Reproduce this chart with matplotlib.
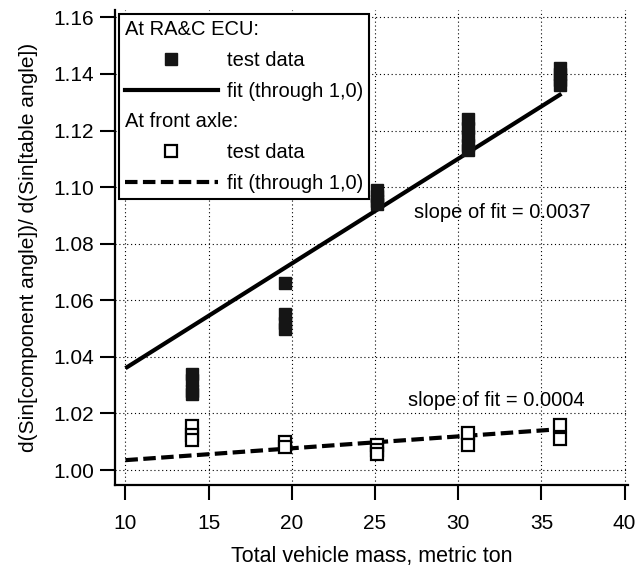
import numpy as np
import matplotlib
matplotlib.use("Agg")
import matplotlib.pyplot as plt
from matplotlib.lines import Line2D

plt.rcParams['font.family'] = ['Liberation Sans', 'DejaVu Sans']

# vehicle mass (metric ton) for each test group
mass = [14.0, 19.6, 25.1, 30.6, 36.1]

# RA&C ECU test data (filled squares)
ecu = [
    [1.034, 1.032, 1.028, 1.027],
    [1.066, 1.055, 1.052, 1.050],
    [1.099, 1.097, 1.095, 1.094],
    [1.124, 1.121, 1.118, 1.115, 1.113],
    [1.142, 1.140, 1.138, 1.136],
]

# front axle test data (open squares)
axle = [
    [1.0155, 1.0125, 1.0105],
    [1.010, 1.008],
    [1.009, 1.007, 1.0055],
    [1.013, 1.009],
    [1.016, 1.011],
]

# fits through (1,0)
fit_x = [10, 36.2]
fit_ecu = [1.036, 1.133]
fit_axle = [1.0035, 1.0145]

slope_ecu = "slope of fit = 0.0037"
slope_axle = "slope of fit = 0.0004"

fs = 15

fig = plt.figure(figsize=(6.35, 5.72), dpi=100)
ax = fig.add_axes([0.181, 0.152, 0.808, 0.830])

ex, ey, ax_x, ax_y = [], [], [], []
for m, vals in zip(mass, ecu):
    ex += [m] * len(vals)
    ey += vals
for m, vals in zip(mass, axle):
    ax_x += [m] * len(vals)
    ax_y += vals

ax.plot(fit_x, fit_ecu, color='black', lw=3, solid_capstyle='butt', zorder=3)
ax.plot(fit_x, fit_axle, color='black', lw=3, dashes=(3, 1.3), zorder=3)
ax.plot(ex, ey, 's', color='#151515', ms=9, mec='#151515', zorder=4)
ax.plot(ax_x, ax_y, 's', mfc='white', mec='black', mew=1.6, ms=9, zorder=4)

ax.set_xlim(9.37, 40.2)
ax.set_ylim(0.9947, 1.1625)
ax.set_xticks([10, 15, 20, 25, 30, 35, 40])
ax.set_yticks(np.arange(1.00, 1.161, 0.02))
ax.yaxis.set_major_formatter(matplotlib.ticker.FormatStrFormatter('%.2f'))
ax.tick_params(direction='out', length=11, width=1.5, labelsize=fs)
ax.tick_params(axis='x', pad=10)
ax.tick_params(axis='y', pad=4)
ax.grid(True, color='black', lw=0.8, linestyle=(0, (1, 2.5)))
for s in ['top', 'right']:
    ax.spines[s].set_visible(False)
for s in ['left', 'bottom']:
    ax.spines[s].set_linewidth(1.6)

ax.set_xlabel('Total vehicle mass, metric ton', fontsize=15.5, labelpad=9)
ax.set_ylabel('d(Sin[component angle])/ d(Sin[table angle])', fontsize=15, labelpad=11)

ax.text(32.66, 1.0912, slope_ecu, fontsize=14.5, ha='center', va='center')
ax.text(32.3, 1.0247, slope_axle, fontsize=14.5, ha='center', va='center')

blank = Line2D([], [], color='none')
handles = [
    blank,
    Line2D([], [], ls='none', marker='s', color='#151515', ms=9),
    Line2D([], [], color='black', lw=3),
    blank,
    Line2D([], [], ls='none', marker='s', mfc='white', mec='black', mew=1.6, ms=9),
    Line2D([], [], color='black', lw=3, dashes=(3, 1.3)),
]
labels = ['At RA&C ECU:', 'test data', 'fit (through 1,0)',
          'At front axle:', 'test data', 'fit (through 1,0)']
leg = ax.legend(handles, labels, loc='upper left', fontsize=14.5, frameon=True,
                fancybox=False, edgecolor='black', framealpha=1,
                handlelength=4.6, handletextpad=0.45, labelspacing=0.58,
                borderaxespad=0.2, borderpad=0.3)
leg.get_frame().set_linewidth(1.5)
rows = leg._legend_handle_box.get_children()[0].get_children()
for i in (0, 3):
    rows[i].get_children()[0].set_width(0)
    rows[i].sep = 0

fig.savefig('out.png', dpi=100)
